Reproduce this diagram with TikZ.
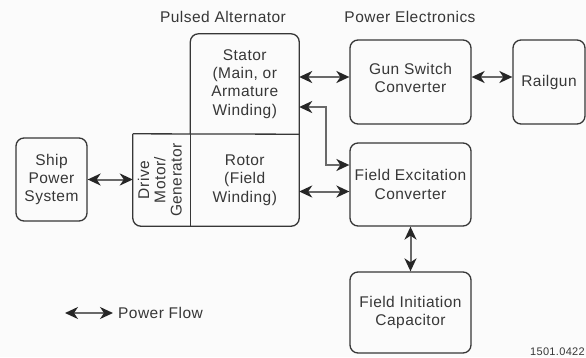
\documentclass[tikz,border=0pt]{standalone}
\usepackage{fontspec}
\setmainfont{Liberation Sans}[LetterSpace=3]
\usetikzlibrary{arrows.meta,positioning,calc}
\definecolor{ink}{RGB}{55,55,55}
\definecolor{shaft}{RGB}{105,105,105}
\definecolor{paper}{RGB}{251,251,251}

\begin{document}
\begin{tikzpicture}[x=1pt,y=-1pt,
  every node/.style={font=\fontsize{15.5}{18.3}\selectfont,align=center,text=ink,inner sep=0pt},
  box/.style={draw=ink,line width=1.3pt,rounded corners=8pt},
  fhead/.tip={Stealth[length=13pt,width=12pt,inset=4pt,color=black!85]},
  flow/.style={line width=2pt,draw=shaft,fhead-fhead}]
\fill[paper] (0,0) rectangle (586,357);
\useasboundingbox (0,0) rectangle (586,357);
% titles
\node[anchor=base] (pa) at (223,22) {Pulsed Alternator};
\node[anchor=base] (pe) at (410,22) {Power Electronics};
% pulsed alternator
\node[minimum width=108.5,minimum height=100] (stator) at (244.75,84) {Stator\\(Main, or\\Armature\\Winding)};
\node[minimum width=108.5,minimum height=92] (rotor) at (244.75,180) {Rotor\\(Field\\Winding)};
\node[minimum width=57.5,minimum height=92] (drive) at (161.75,180)
  {\rotatebox{90}{\begin{tabular}{@{}c@{}}Drive\\[-2pt]Motor/\\[-2pt]Generator\end{tabular}}};
\draw[ink,line width=1.3pt,rounded corners=8pt] (drive.north west) -- (drive.south west) -- (rotor.south east)
  -- (stator.north east) -- (stator.north west) -- (stator.south west);
\draw[ink,line width=1.3pt] (drive.north west) -- (stator.south east);
\draw[ink,line width=1.3pt] (stator.south west) -- (rotor.south west);
% other blocks
\node[box,minimum width=71,minimum height=83] (ship) at (51.5,179.5) {Ship\\Power\\System};
\node[box,minimum width=121,minimum height=84,text depth=8pt] (gun) at (410.5,82) {Gun Switch\\Converter};
\node[box,minimum width=72,minimum height=84] (rail) at (549,82) {Railgun};
\node[box,minimum width=121,minimum height=83] (exc) at (410.5,184.5) {Field Excitation\\Converter};
\node[box,minimum width=121,minimum height=81] (cap) at (410.5,312.5) {Field Initiation\\Capacitor};
% power flow
\draw[flow] (ship.east) -- (ship.east -| drive.west);
\draw[flow] ([yshift=5pt]gun.west -| stator.east) -- ([yshift=5pt]gun.west);
\draw[flow] ([yshift=5pt]gun.east) -- ([yshift=5pt]rail.west);
\draw[flow] ([yshift=-23pt]stator.east) -- ++(27,0) |- ([yshift=19.5pt]exc.west);
\draw[flow] ([yshift=-7pt]exc.west -| rotor.east) -- ([yshift=-7pt]exc.west);
\draw[flow] (exc) -- (cap);
% legend
\coordinate (legtail) at (65,313);
\node[anchor=west,inner sep=5pt] (legend) at (113,313) {Power Flow};
\draw[flow] (legtail) -- (legend.west);
\node[anchor=base east,font=\fontsize{11}{13}\selectfont] (tag) at (585,355.5) {1501.0422};
\end{tikzpicture}
\end{document}
